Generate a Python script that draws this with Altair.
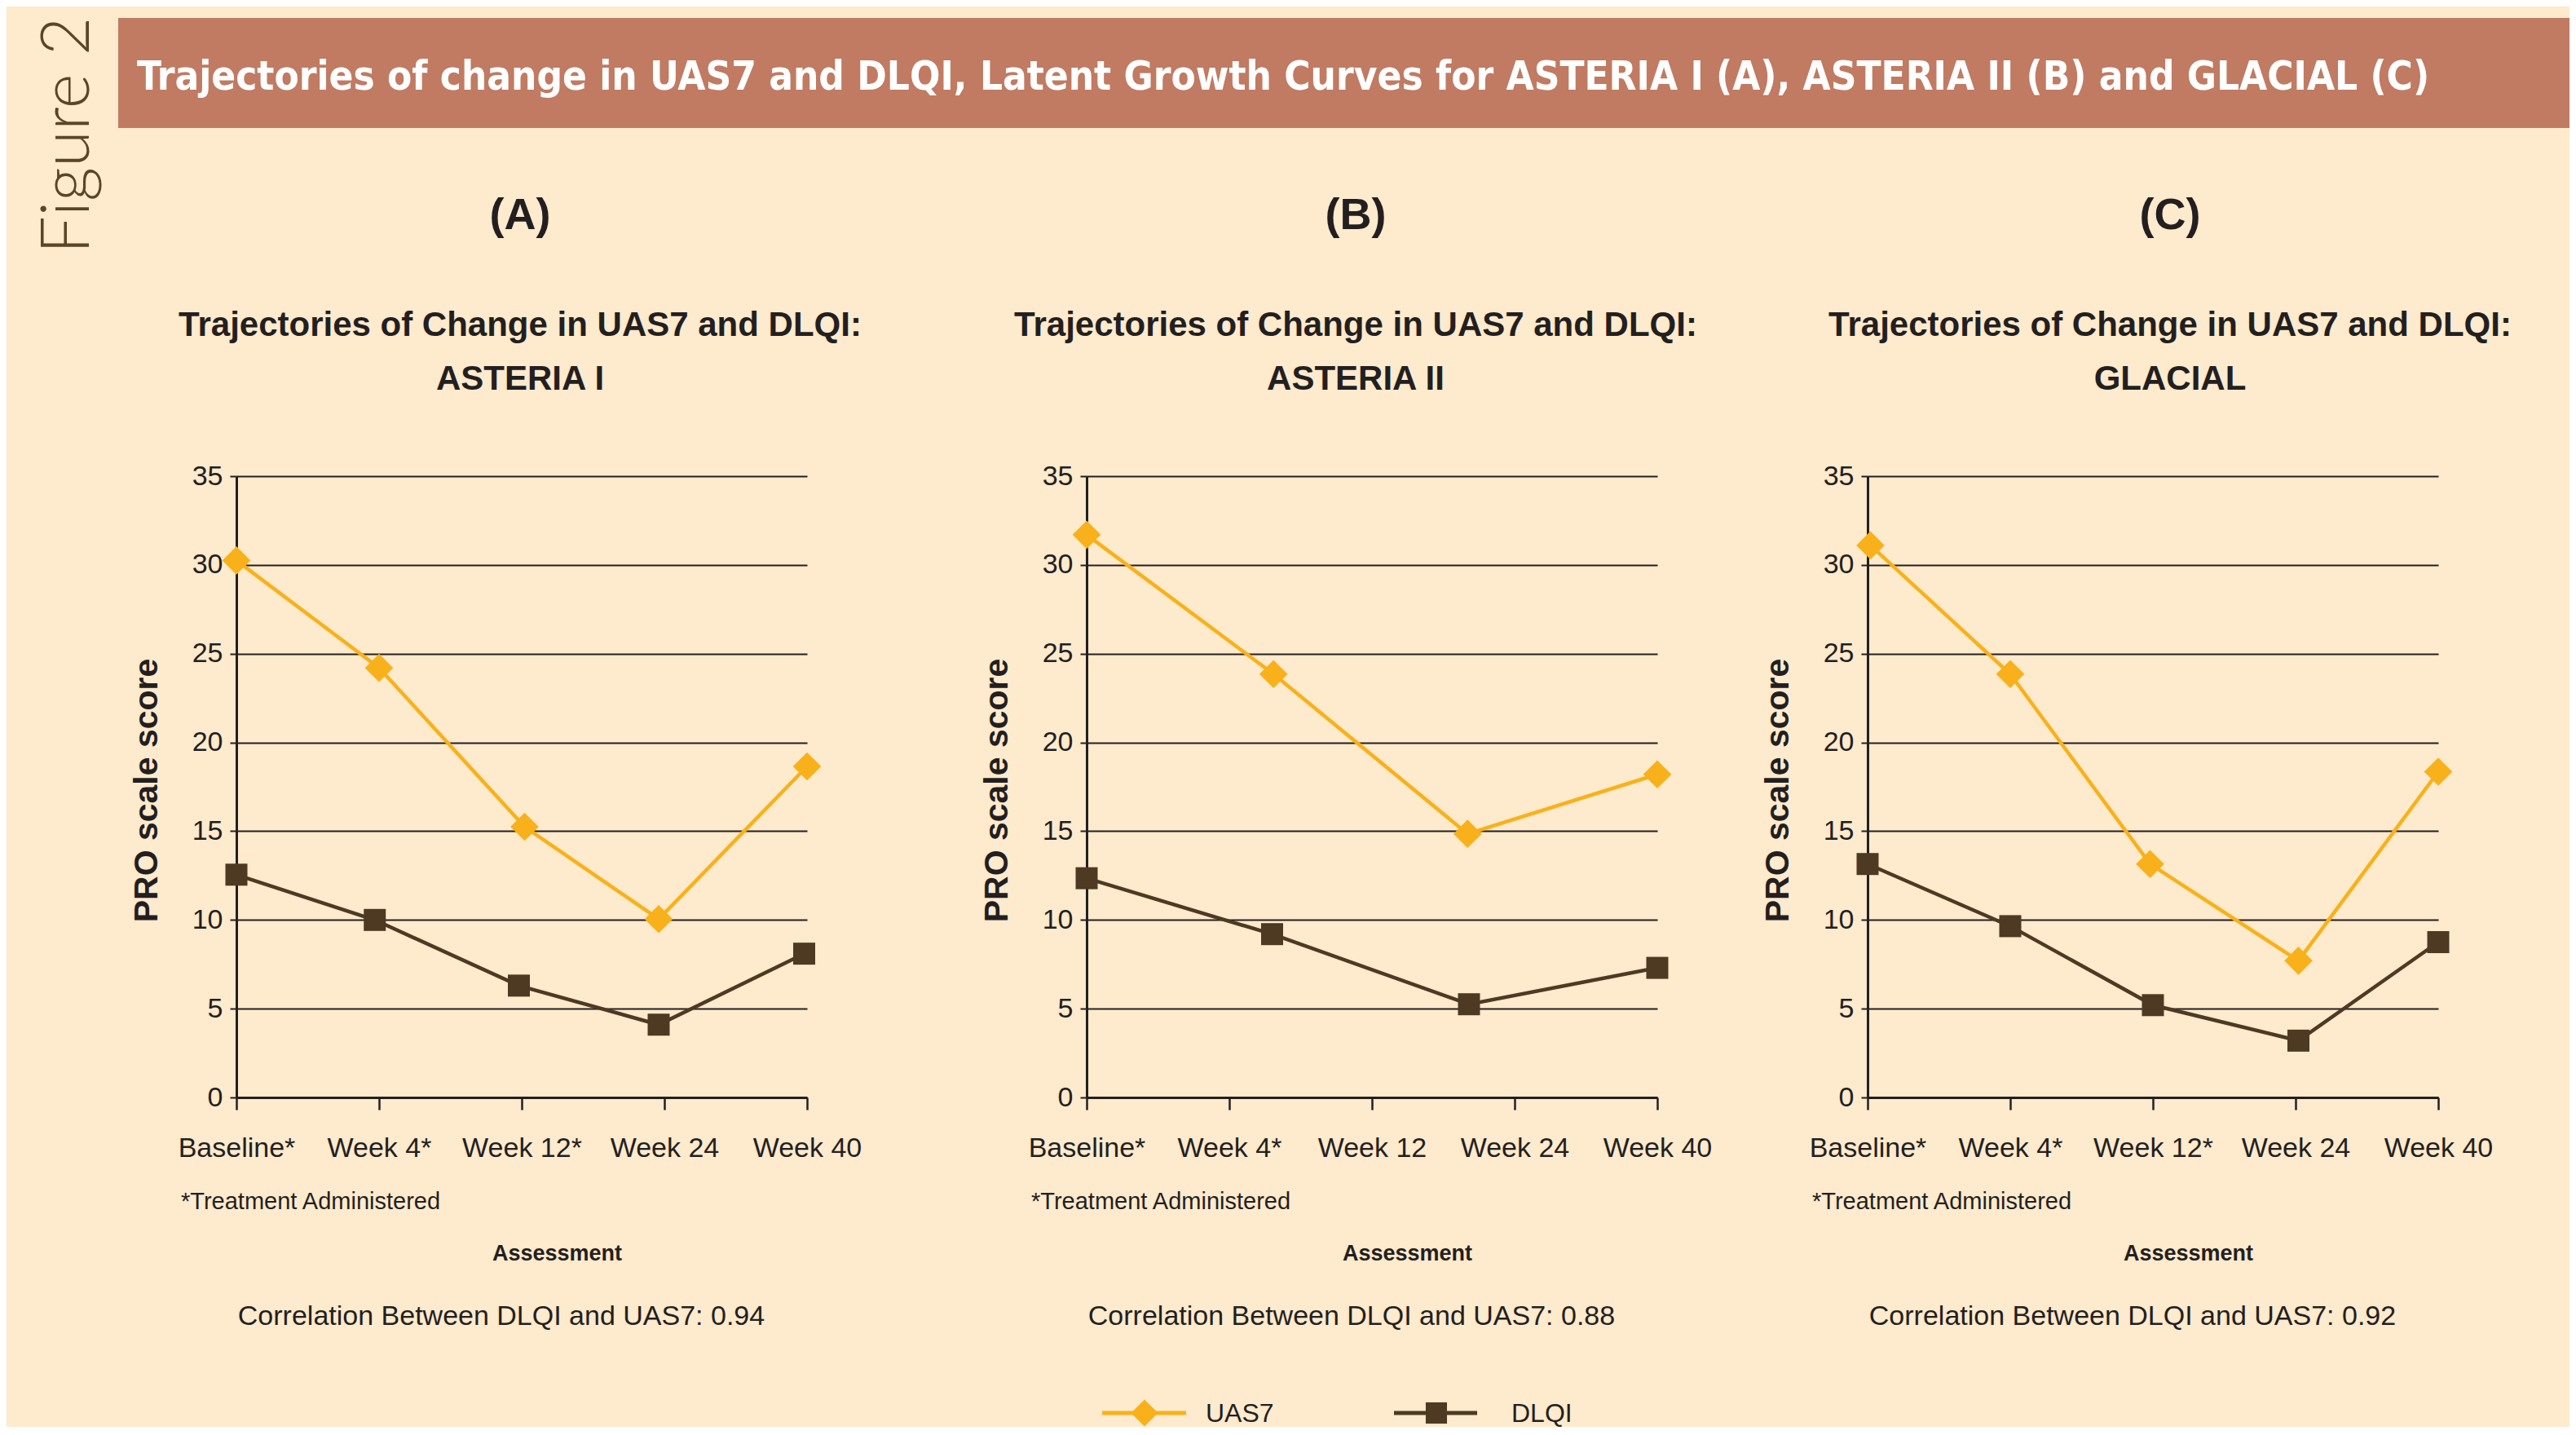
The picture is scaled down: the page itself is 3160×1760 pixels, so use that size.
import altair as alt
import pandas as pd

# ---------------- data ----------------
panels = ["A", "B", "C"]
studies = ["ASTERIA I", "ASTERIA II", "GLACIAL"]
correlations = ["0.94", "0.88", "0.92"]
series = ["UAS7", "DLQI"]

tick_labels = {
    "A": ["Baseline*", "Week 4*", "Week 12*", "Week 24", "Week 40"],
    "B": ["Baseline*", "Week 4*", "Week 12", "Week 24", "Week 40"],
    "C": ["Baseline*", "Week 4*", "Week 12*", "Week 24", "Week 40"],
}

# position along the assessment axis (in tick units)
uas7_pos = {
    "A": [0, 1.0, 2.02, 2.96, 4.0],
    "B": [0, 1.31, 2.67, 4.0],
    "C": [0.02, 1.0, 1.98, 3.02, 4.0],
}
uas7_score = {
    "A": [30.25, 24.2, 15.25, 10.05, 18.65],
    "B": [31.7, 23.85, 14.85, 18.2],
    "C": [31.1, 23.85, 13.15, 7.7, 18.35],
}
dlqi_pos = {
    "A": [0, 0.97, 1.98, 2.96, 3.98],
    "B": [0, 1.30, 2.68, 4.0],
    "C": [0, 1.0, 2.0, 3.02, 4.0],
}
dlqi_score = {
    "A": [12.55, 10.0, 6.3, 4.1, 8.1],
    "B": [12.35, 9.2, 5.25, 7.3],
    "C": [13.15, 9.65, 5.2, 3.2, 8.75],
}

banner_text = ("Trajectories of change in UAS7 and DLQI, Latent Growth Curves for "
               "ASTERIA I (A), ASTERIA II (B) and GLACIAL (C)")
figure_label = "Figure 2"
panel_title = "Trajectories of Change in UAS7 and DLQI:"
footnote = "*Treatment Administered"
corr_prefix = "Correlation Between DLQI and UAS7: "

# ---------------- style ----------------
BG = "#FEEACD"
BANNER = "#C07B62"
ORANGE = "#F9B11B"
BROWN = "#4E3922"
DARK = "#231F20"
FIGC = "#5B4527"
FONT = "Liberation Sans, Arial, sans-serif"
COND = "DejaVu Sans Condensed, Liberation Sans, sans-serif"

W, H = 700, 762
header_x = [348, 330, 371]


def one():
    return pd.DataFrame({"k": [0]})


def txt(s, x, y, size, weight="normal", color=DARK, align="center",
        font=FONT, angle=0, baseline="alphabetic"):
    return alt.Chart(pd.DataFrame({"t": [s]})).mark_text(
        fontSize=size, fontWeight=weight, color=color, align=align,
        baseline=baseline, font=font, angle=angle
    ).encode(text="t:N", x=alt.value(x), y=alt.value(y))


def box(x1, x2, y1, y2, color):
    return alt.Chart(one()).mark_rect(color=color).encode(
        x=alt.value(x1), x2=alt.value(x2), y=alt.value(y1), y2=alt.value(y2))


def panel(i):
    key = panels[i]
    rows = []
    for p, v in zip(uas7_pos[key], uas7_score[key]):
        rows.append({"series": "UAS7", "pos": p, "score": v})
    for p, v in zip(dlqi_pos[key], dlqi_score[key]):
        rows.append({"series": "DLQI", "pos": p, "score": v})
    df = pd.DataFrame(rows)

    labels = tick_labels[key]
    label_expr = "[" + ",".join("'" + l + "'" for l in labels) + "][datum.value]"

    x = alt.X("pos:Q",
              scale=alt.Scale(domain=[0, 4], nice=False, zero=False),
              axis=alt.Axis(values=[0, 1, 2, 3, 4], labelExpr=label_expr,
                            title="Assessment", titleX=393, titleY=199,
                            titleBaseline="alphabetic", titleAlign="center",
                            titleFontSize=27, titleFontWeight="bold",
                            titleFont=FONT, titleColor=DARK,
                            grid=False, tickSize=15, tickWidth=2.5,
                            tickColor=DARK, domainColor=DARK, domainWidth=3,
                            labelPadding=30, labelFontSize=34, labelFont=FONT,
                            labelColor=DARK, labelBaseline="top",
                            labelFlush=False, labelOverlap=False))
    y = alt.Y("score:Q",
              scale=alt.Scale(domain=[0, 35], nice=False),
              axis=alt.Axis(values=list(range(0, 36, 5)),
                            title="PRO scale score", titleX=-98, titleY=385,
                            titleAngle=270, titleBaseline="alphabetic",
                            titleAlign="center",
                            titleFontSize=41, titleFontWeight="bold",
                            titleFont=FONT, titleColor=DARK,
                            grid=True, gridColor=DARK, gridWidth=2,
                            tickSize=8, tickWidth=2, tickColor=DARK,
                            domainColor=DARK, domainWidth=3,
                            labelPadding=9, labelFontSize=34, labelFont=FONT,
                            labelColor=DARK, labelFlush=False,
                            labelOverlap=False))

    base = alt.Chart(df)
    layers = []
    if i == 0:
        # tiny corner marks fixing the page extent
        layers.append(box(-282, -281, -576, -575, BG))
        layers.append(box(2861, 2862, 1161, 1162, BG))
        layers.append(box(-145, 2862, -562, -427, BANNER))
        layers.append(txt(banner_text, -122, -474, 49, weight="bold",
                          color="white", align="left", font=COND))
        layers.append(txt(figure_label, -181, -418, 82, weight=300,
                          color=FIGC, font="Lato, Liberation Sans, sans-serif",
                          angle=270))

    cols = {"UAS7": ORANGE, "DLQI": BROWN}
    shapes = {"UAS7": "diamond", "DLQI": "square"}
    sizes = {"UAS7": 1200, "DLQI": 729}
    for s in ["DLQI", "UAS7"]:
        sub = base.transform_filter(alt.datum.series == s)
        layers.append(sub.mark_line(color=cols[s], strokeWidth=4.5).encode(x=x, y=y))
    for s in ["DLQI", "UAS7"]:
        sub = base.transform_filter(alt.datum.series == s)
        layers.append(sub.mark_point(filled=True, opacity=1, color=cols[s],
                                     shape=shapes[s], size=sizes[s]).encode(x=x, y=y))

    hx = header_x[i]
    layers.append(txt("(" + key + ")", hx, -303, 54, weight="bold"))
    layers.append(txt(panel_title, hx, -172, 42, weight="bold"))
    layers.append(txt(studies[i], hx, -106, 42, weight="bold"))
    layers.append(txt(footnote, -68, 899, 29, align="left"))
    layers.append(txt(corr_prefix + correlations[i], 325, 1041, 34))

    if i == 1:
        # legend
        ly = 1149
        for s, x1, x2, xs, xt in [("UAS7", 19, 122, 71, 146),
                                  ("DLQI", 377, 479, 429, 521)]:
            layers.append(alt.Chart(one()).mark_rule(
                color=cols[s], strokeWidth=5).encode(
                x=alt.value(x1), x2=alt.value(x2), y=alt.value(ly)))
            layers.append(alt.Chart(one()).mark_point(
                filled=True, opacity=1, color=cols[s], shape=shapes[s],
                size=1100 if s == "UAS7" else 680).encode(
                x=alt.value(xs), y=alt.value(ly)))
            layers.append(txt(s, xt, ly + 11, 32, align="left"))

    return alt.layer(*layers).properties(width=W, height=H)


A = panel(0)
B = panel(1)
C = panel(2)

chart = alt.hconcat(
    A,
    alt.hconcat(B, C, spacing=258, bounds="flush"),
    spacing=343, bounds="flush"
).properties(
    background=BG, padding=0
).configure_view(stroke=None)

chart.save("out.html", embed_options={"renderer": "svg", "actions": False})
